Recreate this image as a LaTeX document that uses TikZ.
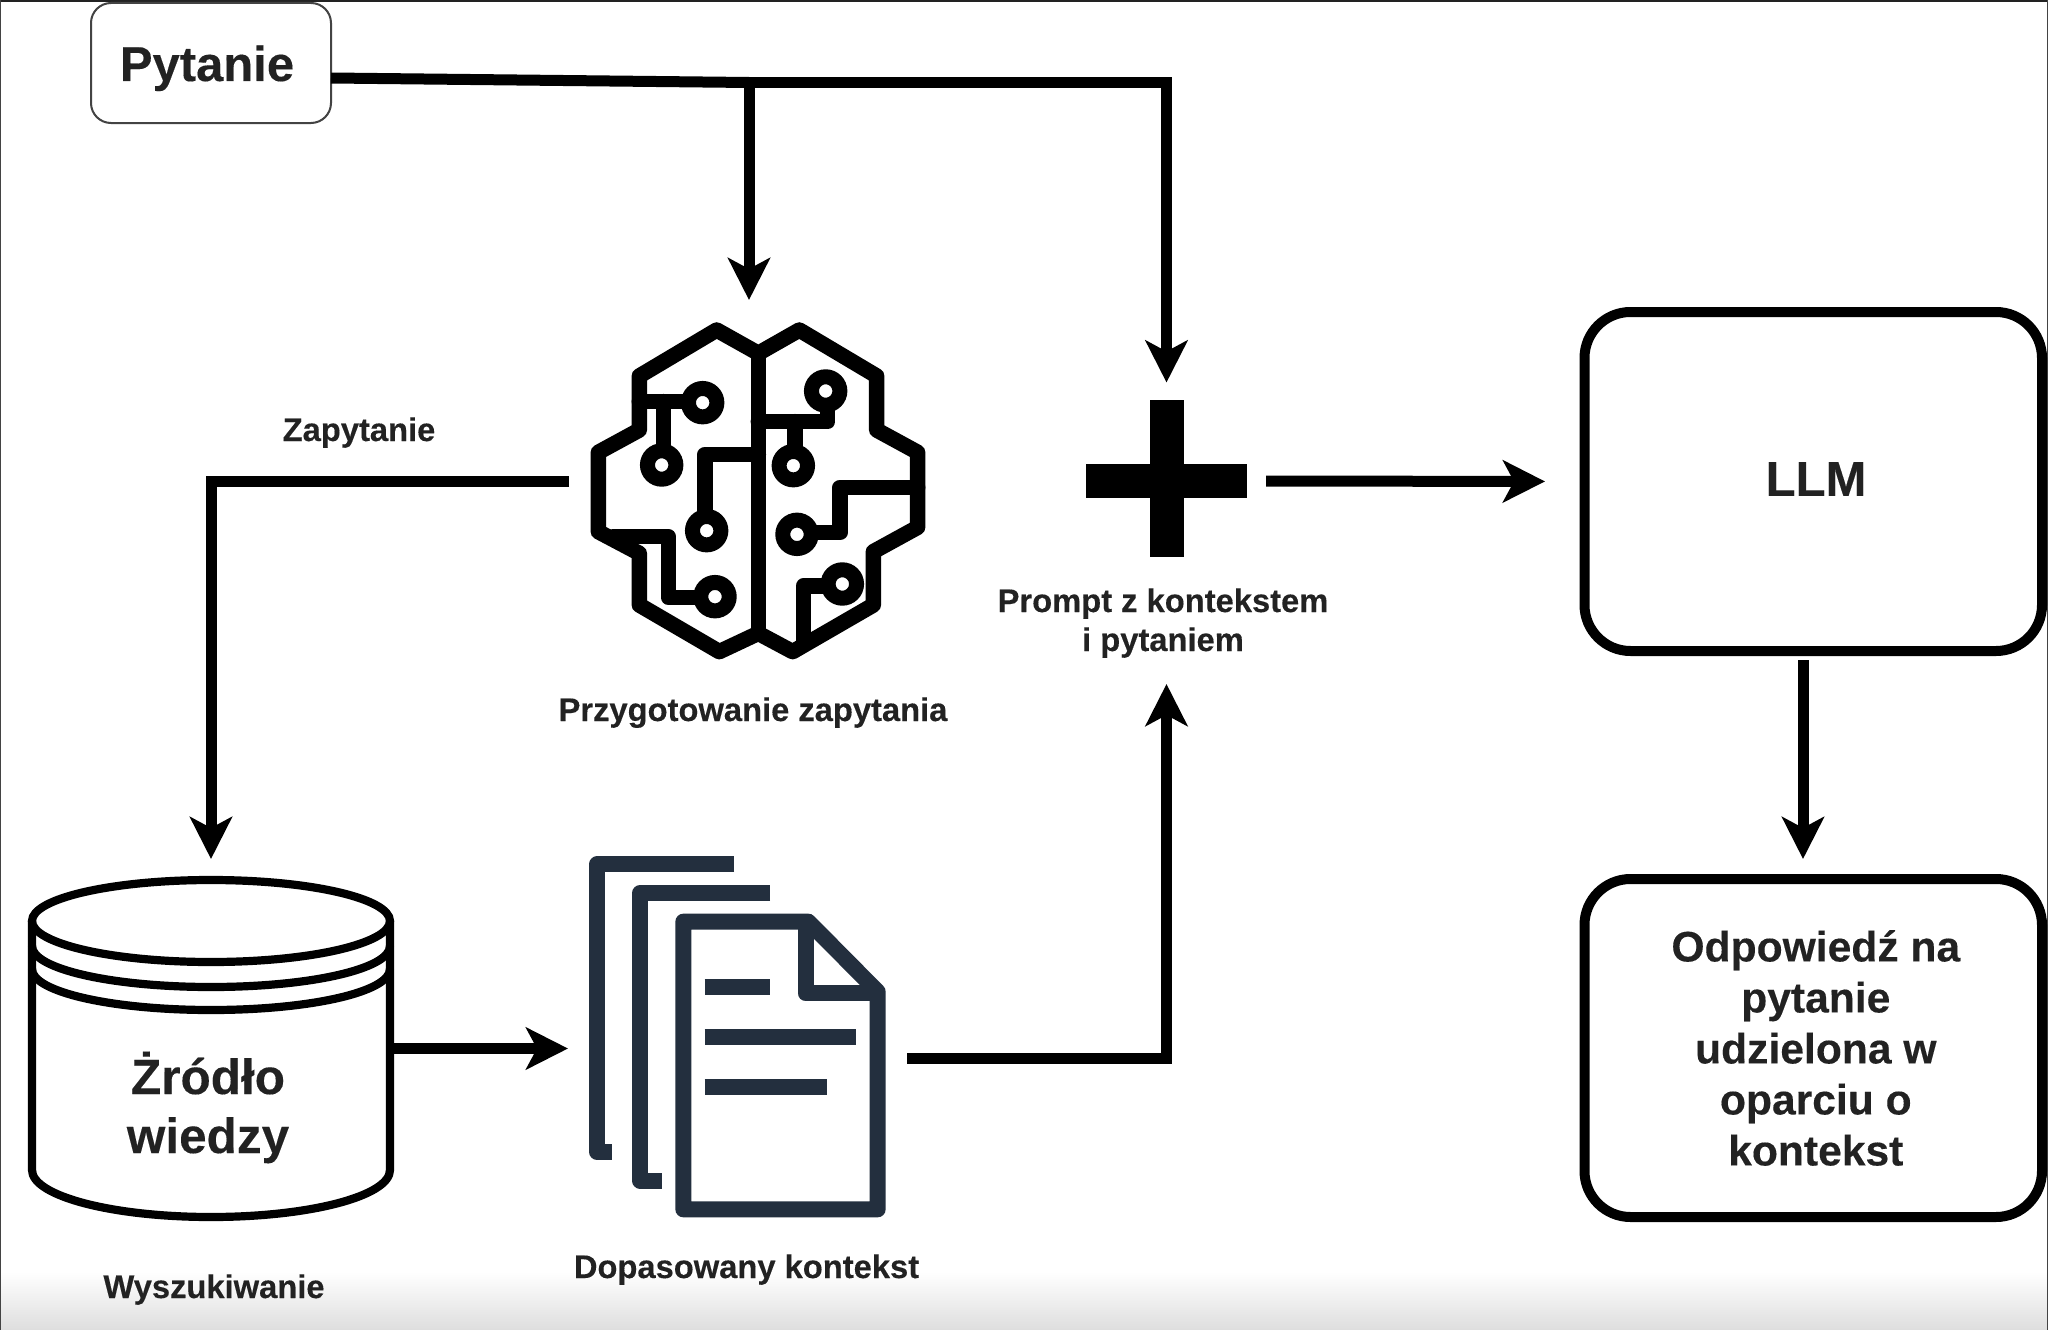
\documentclass[tikz,border=0pt]{standalone}
\usepackage{fontspec}
\setmainfont[BoldFeatures={FakeBold=0.25}]{Liberation Sans}
\usetikzlibrary{arrows.meta}
\definecolor{ink}{HTML}{222222}
\definecolor{navy}{HTML}{232F3E}
\tikzset{
  x=1pt,y=-1pt,
  arr/.style={line width=11pt,draw=black,-{Stealth[length=42pt,width=42pt,inset=11pt]}},
  wire/.style={line width=11pt,draw=black},
  bigbox/.style={draw=black,line width=10pt,rounded corners=46pt,inner sep=0pt,outer sep=0pt,fill=white},
  boxtext/.style={text=ink,inner sep=0pt,align=center},
  qbox/.style={draw=ink!85,line width=2pt,rounded corners=20pt,inner sep=0pt,outer sep=0pt,fill=white,minimum width=240pt,minimum height=120pt},
  ghost/.style={inner sep=0pt,outer sep=0pt},
  lbl/.style={text=ink,font=\bfseries\fontsize{32.7}{39}\selectfont,inner sep=0pt,anchor=base,align=center},
  bstroke/.style={line width=15.5pt,line join=round,line cap=round,draw=black},
  hub/.style={line width=15pt,draw=black,fill=white},
  dstroke/.style={line width=16pt,draw=navy,line join=round},
  cyl/.style={line width=8.2pt,draw=black},
}
\begin{document}
\begin{tikzpicture}
\useasboundingbox (0,0) rectangle (2048,1330);
\fill[white] (0,0) rectangle (2048,1330);
\shade[top color=white,bottom color=black!13] (0,1272) rectangle (2048,1330);
\fill[ink] (0,0) rectangle (2048,2.5);
\fill[ink!85] (0,0) rectangle (1,1330);
\fill[ink!85] (2047,0) rectangle (2048,1330);

% question
\node[qbox] (q) at (211,63) {};
\node[lbl,font=\bfseries\fontsize{49}{56}\selectfont] (qt) at (207,81) {Pytanie};

% brain icon
\node[ghost,minimum width=361pt,minimum height=362pt] (brain) at (749.5,481) {};
\begin{scope}[shift={(560,290)},x=0.33333pt,y=-0.33333pt]
  \draw[bstroke] (595,190) -- (470,120) -- (238,258) -- (238,420) -- (115,487) -- (115,725) -- (238,790) -- (238,945) -- (478,1085) -- (595,1030) -- (698,1085) -- (940,945) -- (940,785) -- (1073,712) -- (1073,487) -- (950,420) -- (950,258) -- (718,120) -- cycle;
  \draw[bstroke] (595,190) -- (595,1030);
  \draw[bstroke] (238,335) -- (428,335);
  \draw[bstroke] (310,335) -- (310,525);
  \draw[bstroke] (435,722) -- (435,493) -- (595,493);
  \draw[bstroke] (160,740) -- (325,740) -- (325,922) -- (465,922);
  \draw[bstroke] (803,303) -- (803,395) -- (595,395);
  \draw[bstroke] (705,395) -- (705,525);
  \draw[bstroke] (711,728) -- (840,728) -- (840,592) -- (1073,592);
  \draw[bstroke] (847,888) -- (730,888) -- (730,1050);
  \draw[hub] (428,338) circle[radius=14.2pt];
  \draw[hub] (305,525) circle[radius=14.2pt];
  \draw[hub] (440,722) circle[radius=14.2pt];
  \draw[hub] (465,920) circle[radius=14.2pt];
  \draw[hub] (797,303) circle[radius=14.2pt];
  \draw[hub] (700,527) circle[radius=14.2pt];
  \draw[hub] (711,733) circle[radius=14.2pt];
  \draw[hub] (847,882) circle[radius=14.2pt];
\end{scope}
\node[lbl] (brainlbl) at (753,721) {Przygotowanie zapytania};

% plus
\fill[black] (1149.5,400) rectangle (1183.5,557);
\fill[black] (1085.7,464) rectangle (1247.3,498);
\node[ghost,minimum width=161.6pt,minimum height=157pt] (plus) at (1166.5,481) {};
\node[lbl] (promptlbl) at (1163,651) {Prompt z kontekstem\\i pytaniem};
\coordinate (promptin) at (1166.5,684);

% LLM and answer
\node[bigbox,minimum width=457.5pt,minimum height=339pt] (llm) at (1813.25,481.5) {};
\node[boxtext,font=\bfseries\fontsize{49}{56}\selectfont] (llmt) at (1816,479) {LLM};
\node[bigbox,minimum width=457.5pt,minimum height=338pt] (ans) at (1813.25,1048) {};
\node[boxtext,font=\bfseries\fontsize{42.6}{51}\selectfont] (anst) at (1815.8,1048) {Odpowiedź na\\pytanie\\udzielona w\\oparciu o\\kontekst};
\coordinate (llmout) at (1803,651);
\coordinate (ansin) at (1803,879);

% knowledge source cylinder
\node[ghost,minimum width=358pt,minimum height=337pt] (kb) at (211,1048.5) {};
\draw[cyl,fill=white] (32,921) -- (32,1170) .. controls (32,1196) and (112,1217) .. (211,1217) .. controls (310,1217) and (390,1196) .. (390,1170) -- (390,921);
\draw[cyl] (211,921) ellipse[x radius=179pt,y radius=41pt];
\draw[cyl] (32,946) .. controls (32,969) and (112,987) .. (211,987) .. controls (310,987) and (390,969) .. (390,946);
\draw[cyl] (32,969) .. controls (32,992) and (112,1010) .. (211,1010) .. controls (310,1010) and (390,992) .. (390,969);
\node[lbl,font=\bfseries\fontsize{49.5}{59}\selectfont] (kbt) at (208,1153) {Żródło\\wiedzy};
\node[lbl] (wysz) at (214,1298) {Wyszukiwanie};

% documents icon
\node[ghost,minimum width=339pt,minimum height=362pt] (docs) at (737.5,1058) {};
\begin{scope}[shift={(560,840)},x=0.33333pt,y=-0.33333pt]
  \draw[dstroke] (522,73) -- (112,73) -- (112,936) -- (155,936);
  \draw[dstroke] (630,159) -- (241,159) -- (241,1022) -- (306,1022);
  \draw[dstroke] (370,245) -- (745,245) -- (953,455) -- (953,1108) -- (370,1108) -- cycle;
  \draw[dstroke] (737,245) -- (737,460) -- (953,460);
  \draw[dstroke] (434,440) -- (630,440);
  \draw[dstroke] (434,591) -- (888,591);
  \draw[dstroke] (434,742) -- (802,742);
\end{scope}
\node[lbl] (docslbl) at (746.5,1278) {Dopasowany kontekst};

% connectors
\coordinate (qout) at (331,78);
\coordinate (j1) at (749,82.5);
\coordinate (j2) at (1166.5,82.5);
\draw[wire] (qout) -- (j1);
\draw[arr,line join=miter] (j1) -- (j2) -- ([yshift=20pt]plus.north);
\draw[arr] (j1) -- (j1 |- brain.north);
\draw[arr,shorten >=21pt] (brain.west) -| (kb.north);
\node[lbl] (zap) at (359,441) {Zapytanie};
\draw[arr] (kb.east) -- (kb.east -| docs.west);
\draw[arr] (docs.east) -| (promptin);
\draw[arr,shorten <=18.7pt,shorten >=39.5pt] (plus.east) -- (llm.west);
\draw[arr,shorten <=9pt,shorten >=20pt] (llmout) -- (ansin);
\end{tikzpicture}
\end{document}
